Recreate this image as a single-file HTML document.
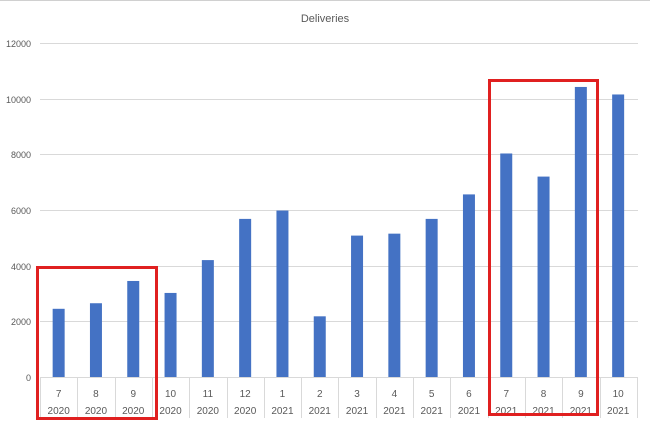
<!DOCTYPE html>
<html><head><meta charset="utf-8"><style>
body{margin:0;background:#fff;}
svg{display:block;font-family:"Liberation Sans",sans-serif;}
</style></head><body>
<svg width="650" height="421" viewBox="0 0 650 421">
<rect x="0" y="0" width="650" height="421" fill="#fff"/>
<line x1="0" y1="0.5" x2="650" y2="0.5" stroke="#d0d0d0"/>
<text x="325" y="22" text-anchor="middle" font-size="11" fill="#595959">Deliveries</text>
<g stroke="#d9d9d9" stroke-width="1">
<line x1="40" y1="43.5" x2="638" y2="43.5"/>
<line x1="40" y1="99.5" x2="638" y2="99.5"/>
<line x1="40" y1="154.5" x2="638" y2="154.5"/>
<line x1="40" y1="210.5" x2="638" y2="210.5"/>
<line x1="40" y1="266.5" x2="638" y2="266.5"/>
<line x1="40" y1="321.5" x2="638" y2="321.5"/>
<line x1="40" y1="377.5" x2="638" y2="377.5"/>
</g>
<g font-size="9" fill="#595959" text-anchor="end">
<text x="31" y="47">12000</text>
<text x="31" y="103">10000</text>
<text x="31" y="158">8000</text>
<text x="31" y="214">6000</text>
<text x="31" y="270">4000</text>
<text x="31" y="325">2000</text>
<text x="31" y="381">0</text>
</g>
<g id="bars" fill="#4472c4"></g>
<g id="tbl" stroke="#d9d9d9"></g>
<g id="lbl" font-size="10" fill="#595959" text-anchor="middle"></g>
<rect x="37.5" y="267.5" width="119" height="151" fill="none" stroke="#e02020" stroke-width="3"/>
<rect x="489.5" y="80.5" width="108" height="334" fill="none" stroke="#e02020" stroke-width="3"/>
<script>
var v=[2450,2650,3450,3020,4200,5680,5980,2180,5080,5150,5680,6560,8030,7200,10420,10150];
var m=[7,8,9,10,11,12,1,2,3,4,5,6,7,8,9,10];
var ns="http://www.w3.org/2000/svg",w=37.3,x0=40;
function el(p,t,a,txt){var e=document.createElementNS(ns,t);for(var k in a)e.setAttribute(k,a[k]);if(txt!=null)e.textContent=txt;document.getElementById(p).appendChild(e);}
for(var i=0;i<16;i++){var c=x0+w*(i+.5),h=v[i]/2000*55.67;
el("bars","rect",{x:c-6,y:377-h,width:12,height:h});
el("lbl","text",{x:c,y:397},m[i]);
el("lbl","text",{x:c,y:414},i<6?2020:2021);}
for(var i=0;i<=16;i++){var x=Math.round(x0+w*i)+.5;el("tbl","line",{x1:x,y1:377,x2:x,y2:418});}
</script>
</svg>
</body></html>
